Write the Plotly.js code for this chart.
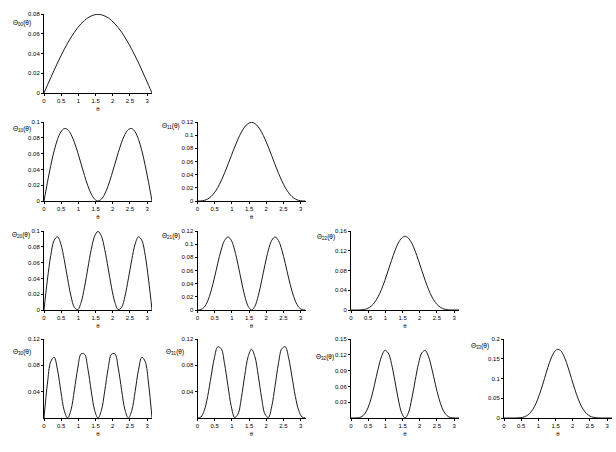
<!DOCTYPE html>
<html>
<head>
<meta charset="utf-8">
<script src="https://cdn.plot.ly/plotly-3.0.1.min.js"></script>
<style>
  body { margin: 0; background: #fff; }
  #plot { width: 616px; height: 452px; }
</style>
</head>
<body>
<div id="plot"></div>
<script>
// theta samples (k*pi/32, k = 0..32)
var theta = [0, 0.098, 0.196, 0.295, 0.393, 0.491, 0.589, 0.687, 0.785, 0.884, 0.982, 1.080, 1.178,
  1.276, 1.374, 1.473, 1.571, 1.669, 1.767, 1.865, 1.963, 2.062, 2.160, 2.258, 2.356, 2.454, 2.553,
  2.651, 2.749, 2.847, 2.945, 3.043, 3.142];

// curve values
var th00 = [0, .0078, .0155, .0231, .0305, .0375, .0442, .0505, .0563, .0615, .0662, .0702, .0735, .0762, .0780, .0792, .0796,
  .0792, .0780, .0762, .0735, .0702, .0662, .0615, .0563, .0505, .0442, .0375, .0305, .0231, .0155, .0078, 0];
var th10 = [0, .0232, .0448, .0635, .0780, .0875, .0917, .0905, .0844, .0743, .0613, .0468, .0323, .0192, .0089, .0023, 0,
  .0023, .0089, .0192, .0323, .0468, .0613, .0743, .0844, .0905, .0917, .0875, .0780, .0635, .0448, .0232, 0];
var th11 = [0, .0001, .0009, .0029, .0067, .0125, .0205, .0305, .0422, .0551, .0686, .0819, .0941, .1046, .1126, .1176, .1194,
  .1176, .1126, .1046, .0941, .0819, .0686, .0551, .0422, .0305, .0205, .0125, .0067, .0029, .0009, .0001, 0];
var th20 = [0, .0379, .0690, .0881, .0927, .0834, .0637, .0396, .0176, .0033, .0005, .0097, .0289, .0531, .0766, .0934, .0995,
  .0934, .0766, .0531, .0289, .0097, .0005, .0033, .0176, .0396, .0637, .0834, .0927, .0881, .0690, .0379, 0];
var th21 = [0, .0006, .0043, .0134, .0286, .0486, .0708, .0911, .1055, .1109, .1059, .0910, .0689, .0441, .0214, .0057, 0,
  .0057, .0214, .0441, .0689, .0910, .1059, .1109, .1055, .0911, .0708, .0486, .0286, .0134, .0043, .0006, 0];
var th22 = [0, 0, 0, .0003, .0012, .0035, .0079, .0153, .0264, .0412, .0593, .0796, .1004, .1197, .1354, .1456, .1492,
  .1456, .1354, .1197, .1004, .0796, .0593, .0412, .0264, .0153, .0079, .0035, .0012, .0003, 0, 0, 0];
var th30 = [0, .0515, .0856, .0923, .0731, .0403, .0112, 0, .0123, .0423, .0758, .0974, .0969, .0747, .0410, .0116, 0,
  .0116, .0410, .0747, .0969, .0974, .0758, .0423, .0123, 0, .0112, .0403, .0731, .0923, .0856, .0515, 0];
var th31 = [0, .0015, .0113, .0327, .0625, .0913, .1081, .1054, .0831, .0494, .0177, .0009, .0059, .0307, .0646, .0933, .1044,
  .0933, .0646, .0307, .0059, .0009, .0177, .0494, .0831, .1054, .1081, .0913, .0625, .0327, .0113, .0015, 0];
var th32 = [0, 0, .0003, .0020, .0073, .0189, .0382, .0641, .0923, .1160, .1281, .1238, .1030, .0706, .0361, .0098, 0,
  .0098, .0361, .0706, .1030, .1238, .1281, .1160, .0923, .0641, .0382, .0189, .0073, .0020, .0003, 0, 0];
var th33 = [0, 0, 0, 0, .0002, .0009, .0028, .0072, .0154, .0287, .0478, .0722, .1000, .1279, .1520, .1683, .1741,
  .1683, .1520, .1279, .1000, .0722, .0478, .0287, .0154, .0072, .0028, .0009, .0002, 0, 0, 0, 0];

var xTicks = [0, 0.5, 1, 1.5, 2, 2.5, 3];

// panel: [label subscript, values, row, col, ymax, y tick values]
var panels = [
  ['00', th00, 0, 0, 0.08, [0, 0.02, 0.04, 0.06, 0.08]],
  ['10', th10, 1, 0, 0.1, [0, 0.02, 0.04, 0.06, 0.08, 0.1]],
  ['11', th11, 1, 1, 0.12, [0, 0.02, 0.04, 0.06, 0.08, 0.1, 0.12]],
  ['20', th20, 2, 0, 0.1, [0, 0.02, 0.04, 0.06, 0.08, 0.1]],
  ['21', th21, 2, 1, 0.12, [0, 0.02, 0.04, 0.06, 0.08, 0.1, 0.12]],
  ['22', th22, 2, 2, 0.16, [0, 0.04, 0.08, 0.12, 0.16]],
  ['30', th30, 3, 0, 0.12, [0.04, 0.08, 0.12]],
  ['31', th31, 3, 1, 0.12, [0.04, 0.08, 0.12]],
  ['32', th32, 3, 2, 0.15, [0.03, 0.06, 0.09, 0.12, 0.15]],
  ['33', th33, 3, 3, 0.2, [0, 0.05, 0.1, 0.15, 0.2]]
];

// pixel geometry of the grid
var W = 616, H = 452;
var colLeft = [44, 197.5, 351, 504];
var plotW = 108;
var rowTop = [14, 122, 231, 339];
var plotH = 79;
// label centres (px)
var labelPos = {
  '00': [22, 23], '10': [22, 129], '11': [171, 126],
  '20': [21, 235], '21': [171, 236], '22': [326, 237],
  '30': [22, 352], '31': [175, 352], '32': [325, 357], '33': [480, 346]
};

var fontFam = 'Liberation Sans, Arial, sans-serif';
var data = [];
var layout = {
  width: W, height: H,
  margin: {l: 0, r: 0, t: 0, b: 0},
  paper_bgcolor: '#fff',
  plot_bgcolor: '#fff',
  showlegend: false,
  font: {family: fontFam, size: 6, color: '#000'},
  annotations: []
};

panels.forEach(function (p, i) {
  var n = i + 1;
  var sfx = n === 1 ? '' : String(n);
  var x0 = colLeft[p[3]], y0 = rowTop[p[2]];
  data.push({
    x: theta, y: p[1],
    xaxis: 'x' + sfx, yaxis: 'y' + sfx,
    type: 'scatter', mode: 'lines',
    line: {color: '#1a1a1a', width: 1, shape: 'spline'},
    hoverinfo: 'skip'
  });
  layout['xaxis' + sfx] = {
    domain: [x0 / W, (x0 + plotW) / W],
    range: [0, Math.PI],
    tickvals: xTicks,
    ticks: 'outside', ticklen: 2, tickcolor: '#000',
    showline: true, linecolor: '#000', linewidth: 1,
    showgrid: false, zeroline: false,
    anchor: 'y' + sfx,
    title: {text: 'θ', font: {family: fontFam, size: 6, color: '#000'}, standoff: 3},
    tickfont: {family: fontFam, size: 6, color: '#000'}
  };
  layout['yaxis' + sfx] = {
    domain: [1 - (y0 + plotH) / H, 1 - y0 / H],
    range: [0, p[4]],
    tickvals: p[5],
    ticks: 'outside', ticklen: 2, tickcolor: '#000',
    showline: true, linecolor: '#000', linewidth: 1,
    showgrid: false, zeroline: false,
    anchor: 'x' + sfx,
    tickfont: {family: fontFam, size: 6, color: '#000'}
  };
  var lp = labelPos[p[0]];
  layout.annotations.push({
    xref: 'paper', yref: 'paper',
    x: lp[0] / W, y: 1 - lp[1] / H,
    xanchor: 'center', yanchor: 'middle',
    showarrow: false,
    text: 'Θ<sub>' + p[0] + '</sub>(θ)',
    font: {family: fontFam, size: 6.5, color: '#000'}
  });
});

Plotly.newPlot('plot', data, layout, {staticPlot: true});
</script>
</body>
</html>
